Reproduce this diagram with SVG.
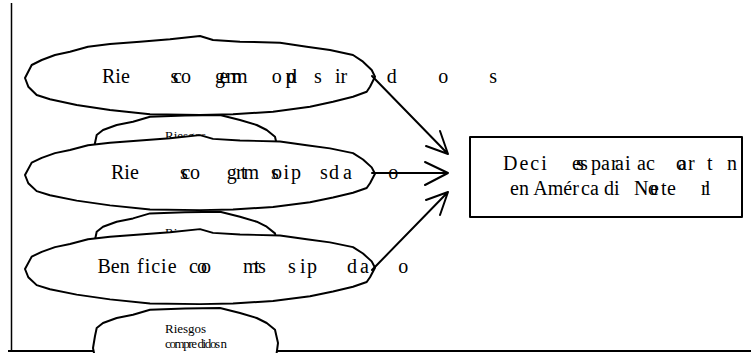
<svg xmlns="http://www.w3.org/2000/svg" width="751" height="353" viewBox="0 0 751 353">
<style>
.shape{fill:#fff;stroke:#000;stroke-width:2;stroke-linejoin:round}
.t{font-family:"Liberation Serif","Times New Roman",serif;font-size:20px;fill:#000}
.s{font-family:"Liberation Serif","Times New Roman",serif;font-size:13px;fill:#000}
.c{fill:none;stroke:#000;stroke-width:2;stroke-linecap:round;stroke-linejoin:round}
.frame{fill:none;stroke:#000}
</style>
<defs>
<path id="big" d="M25,78 L31.7,65 L41.7,60 L55,55 L70,51.7 L88,46.7 L110,44 L140,41.7 L170,39.3 L200,36 L213,40 L240,41.7 L280,42.7 L306.7,46.7 L330,50 L353,55 L363,61.7 L371.7,70 L375,76.7 L370,86.7 L366.7,91.7 L353,96.7 L333,101.7 L310,106.7 L273,111.7 L233,114.3 L200,115 L150,114.3 L110,110 L76.7,105 L50,99.3 L36.7,95 L28.3,86.7 Z"/>
<path id="small" d="M95,143 L96.7,135 L103,130 L116.7,125 L133,121.7 L150,116.7 L185,115.5 L220,115 L240,120 L256.7,125 L266.7,130 L275,136.7 L278,150 L276,165 L265,178 L240,188 L200,194 L160,193 L125,187 L105,177 L95,165 L93,155 Z"/>
</defs>
<line class="frame" x1="11.5" y1="3" x2="11.5" y2="352" stroke-width="1.5"/>
<line class="frame" x1="8" y1="351" x2="751" y2="351" stroke-width="2"/>

<g id="node-riesgos-mercado">
<use href="#big" class="shape"/>
<text class="t" y="83"><tspan x="102">Rie</tspan><tspan x="170.5">s</tspan><tspan x="173">c</tspan><tspan x="181">o</tspan><tspan x="215">g</tspan><tspan x="219.5">e</tspan><tspan x="226">m</tspan><tspan x="232">m</tspan><tspan x="271.7">o</tspan><tspan x="285.5">p</tspan><tspan x="287">d</tspan><tspan x="314">s</tspan><tspan x="335">ir</tspan><tspan x="386.7">d</tspan><tspan x="438.3">o</tspan><tspan x="489.3">s</tspan></text>
</g>

<g id="node-riesgos-small-1">
<use href="#small" class="shape"/>
<text class="s" x="165" y="140">Riesgos</text>
</g>

<g id="node-riesgos-credito">
<use href="#big" class="shape" transform="translate(0,175) scale(1,0.95) translate(0,-78)"/>
<text class="t" y="179"><tspan x="111">Rie</tspan><tspan x="180">s</tspan><tspan x="181.5">c</tspan><tspan x="190">o</tspan><tspan x="226.7">g</tspan><tspan x="236">r</tspan><tspan x="241">t</tspan><tspan x="243.5">m</tspan><tspan x="271">s</tspan><tspan x="272">o</tspan><tspan x="283.5">i</tspan><tspan x="291">p</tspan><tspan x="320">s</tspan><tspan x="329">d</tspan><tspan x="343">a</tspan><tspan x="388.3">o</tspan></text>
</g>

<g id="node-riesgos-small-2">
<use href="#small" class="shape" transform="translate(0,96.7)"/>
<text class="s" x="165" y="236.7">Riesgos</text>
</g>

<g id="node-beneficios">
<use href="#big" class="shape" transform="translate(0,269) scale(1,0.95) translate(0,-78)"/>
<text class="t" y="273"><tspan x="97.5">Ben</tspan><tspan x="137" letter-spacing="1">ficie</tspan><tspan x="189">c</tspan><tspan x="197">o</tspan><tspan x="201">o</tspan><tspan x="243">m</tspan><tspan x="254">t</tspan><tspan x="258">s</tspan><tspan x="288">s</tspan><tspan x="300">i</tspan><tspan x="307">p</tspan><tspan x="347">d</tspan><tspan x="360">a</tspan><tspan x="398.3">o</tspan></text>
</g>

<g id="node-riesgos-small-3">
<use href="#small" class="shape" transform="translate(0,193)"/>
<text class="s" x="165" y="333">Riesgos</text>
<text class="s" x="165" y="348" textLength="62" lengthAdjust="spacing">compre didos n</text>
</g>

<g id="node-decisiones">
<rect x="470" y="137" width="272" height="80" class="shape"/>
<text class="t" y="170"><tspan x="503" letter-spacing="2">Deci</tspan><tspan x="572">e</tspan><tspan x="576">s</tspan><tspan x="580">s</tspan><tspan x="591">p</tspan><tspan x="601">a</tspan><tspan x="611">r</tspan><tspan x="615">a</tspan><tspan x="625">i</tspan><tspan x="637">a</tspan><tspan x="646">c</tspan><tspan x="676">o</tspan><tspan x="678">a</tspan><tspan x="688">r</tspan><tspan x="707">t</tspan><tspan x="727">n</tspan></text>
<text class="t" y="195"><tspan x="510">en</tspan><tspan x="533.3">Amér</tspan><tspan x="581">ca</tspan><tspan x="604">di</tspan><tspan x="634">N</tspan><tspan x="648">o</tspan><tspan x="650">e</tspan><tspan x="661">t</tspan><tspan x="667">e</tspan><tspan x="701">r</tspan><tspan x="705">l</tspan></text>
</g>

<g id="connectors">
<path class="c" d="M372,76 L448,154 M426,146 L448,154 L440,131"/>
<path class="c" d="M372,173 L448,173 M425,162 L448,173 L425,185"/>
<path class="c" d="M372,270 L448,192 M426,200 L448,192 L440,215"/>
</g>
</svg>
